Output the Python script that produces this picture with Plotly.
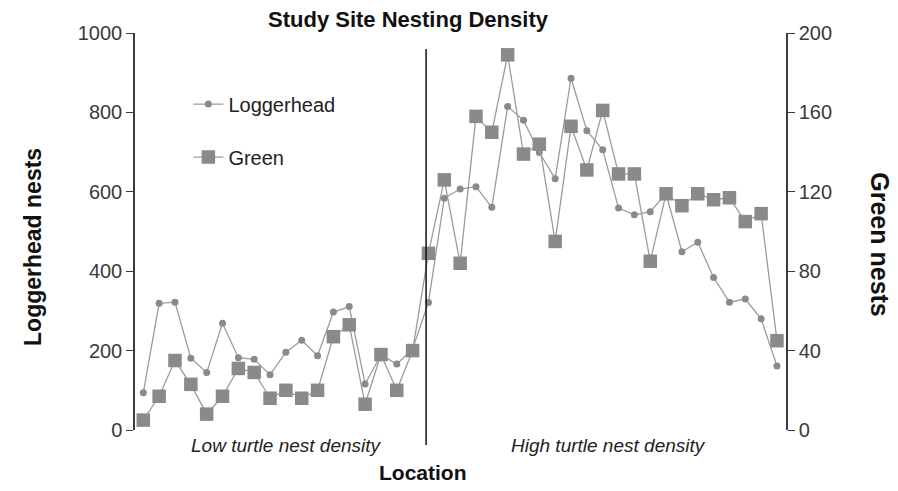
import plotly.graph_objects as go

# Survey locations along the beach (index order)
locations = list(range(1, 42))

# Nest counts per location
loggerhead_nests = [94, 319, 322, 181, 145, 269, 182, 178, 139, 196, 226, 187, 297, 311,
                    116, 189, 166, 204, 321, 584, 607, 613, 561, 815, 780, 699, 633, 886,
                    754, 706, 559, 542, 550, 595, 449, 473, 384, 322, 330, 280, 161]
green_nests = [5, 17, 35, 23, 8, 17, 31, 29, 16, 20, 16, 20, 47, 53, 13, 38, 20, 40, 89,
               126, 84, 158, 150, 189, 139, 144, 95, 153, 131, 161, 129, 129, 85, 119,
               113, 119, 116, 117, 105, 109, 45]

# Boundary between the low- and high-density stretches (in location units)
density_boundary = 18.85

left_ticks = [0, 200, 400, 600, 800, 1000]
right_ticks = [0, 40, 80, 120, 160, 200]

FONT = "Liberation Sans, Arial, sans-serif"
AXIS_COLOR = "#3c3c3c"
LINE_COLOR = "#9c9c9c"
MARKER_COLOR = "#8a8a8a"

fig = go.Figure()

fig.add_trace(go.Scatter(
    x=locations, y=loggerhead_nests, name="Loggerhead", mode="lines+markers",
    line=dict(color=LINE_COLOR, width=1.3),
    marker=dict(symbol="circle", size=7, color=MARKER_COLOR),
    legendgroup="lh", yaxis="y",
))
fig.add_trace(go.Scatter(
    x=locations, y=green_nests, name="Green", mode="lines+markers",
    line=dict(color=LINE_COLOR, width=1.3),
    marker=dict(symbol="square", size=13.5, color=MARKER_COLOR),
    legendgroup="gr", yaxis="y2",
))

fig.add_shape(type="line", xref="x", yref="paper",
              x0=density_boundary, x1=density_boundary, y0=-0.038, y1=0.96,
              line=dict(color="#111111", width=1.5))

tick_font = dict(family=FONT, size=20, color="#3a3a3a")

fig.update_layout(
    width=898, height=491,
    margin=dict(l=135, r=112, t=33, b=61),
    paper_bgcolor="white", plot_bgcolor="white",
    showlegend=True,
    legend=dict(x=0.082, y=0.87, xanchor="left", yanchor="top",
                font=dict(family=FONT, size=20, color="#222222"),
                bgcolor="rgba(0,0,0,0)", tracegroupgap=24),
    xaxis=dict(range=[0.476, 41.57], showticklabels=False, showline=False,
               showgrid=False, zeroline=False, ticks=""),
    yaxis=dict(range=[0, 1000], tickvals=left_ticks, showgrid=False, zeroline=False,
               showline=True, linecolor=AXIS_COLOR, linewidth=1.5,
               ticks="outside", ticklen=7, tickcolor=AXIS_COLOR, tickwidth=1.2,
               tickfont=tick_font),
    yaxis2=dict(range=[0, 200], tickvals=right_ticks, overlaying="y", side="right",
                anchor="x", showgrid=False, zeroline=False,
                showline=True, linecolor=AXIS_COLOR, linewidth=1.5,
                ticks="outside", ticklen=7, tickcolor=AXIS_COLOR, tickwidth=1.2,
                tickfont=tick_font),
    yaxis3=dict(range=[0, 200], tickvals=right_ticks, overlaying="y", side="right",
                anchor="x", showgrid=False, zeroline=False, showline=False,
                ticks="inside", ticklen=6, tickcolor=AXIS_COLOR, tickwidth=1.2,
                showticklabels=False),
)

annotations = [
    dict(text="<b>Study Site Nesting Density</b>", x=0.42, y=1.033,
         font=dict(family=FONT, size=22, color="#111111")),
    dict(text="<b>Loggerhead nests</b>", x=-0.1567, y=0.461, textangle=-90,
         font=dict(family=FONT, size=23, color="#111111")),
    dict(text="<b>Green nests</b>", x=1.144, y=0.466, textangle=90,
         font=dict(family=FONT, size=25, color="#111111")),
    dict(text="<b>Location</b>", x=0.443, y=-0.106,
         font=dict(family=FONT, size=21, color="#111111")),
    dict(text="<i>Low turtle nest density</i>", x=0.232, y=-0.04,
         font=dict(family=FONT, size=19, color="#222222")),
    dict(text="<i>High turtle nest density</i>", x=0.727, y=-0.04,
         font=dict(family=FONT, size=19, color="#222222")),
]
for a in annotations:
    fig.add_annotation(xref="paper", yref="paper", showarrow=False,
                       xanchor="center", yanchor="middle", **a)

fig.write_html("out.html")
